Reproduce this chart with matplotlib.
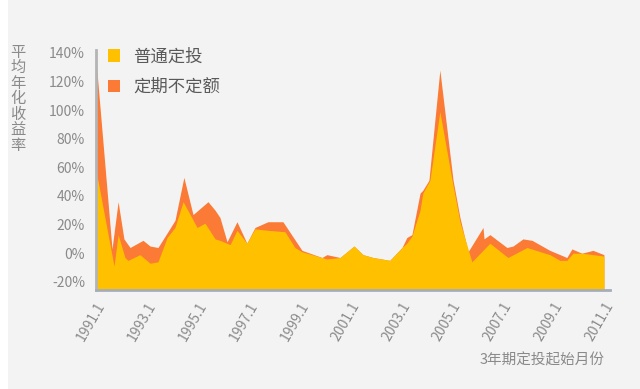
import matplotlib
matplotlib.use('Agg')
import matplotlib.pyplot as plt
from matplotlib.patches import Patch, Rectangle

plt.rcParams['font.family'] = ['Noto Sans CJK SC', 'DejaVu Sans']

# 定期不定额 (top, orange)
irregular_dates = [1991.00, 1991.63, 1991.87, 1992.10, 1992.34, 1992.85, 1993.13, 1993.44,
                   1993.83, 1994.11, 1994.46, 1994.82, 1995.41, 1995.69, 1995.88, 1996.16,
                   1996.55, 1996.94, 1997.26, 1997.77, 1998.36, 1999.11, 1999.90, 2000.09,
                   2000.61, 2001.16, 2001.51, 2001.91, 2002.57, 2003.05, 2003.24, 2003.44,
                   2003.76, 2003.87, 2004.11, 2004.54, 2005.06, 2005.33, 2005.65, 2006.24,
                   2006.28, 2006.51, 2007.18, 2007.42, 2007.81, 2008.17, 2008.87, 2009.54,
                   2009.74, 2010.13, 2010.57, 2011.00]
irregular_ret = [135, 3, 36, 10, 4, 9, 5, 4,
                 15, 23, 53, 27, 36, 30, 25, 8,
                 22, 7, 18, 22, 22, 2, -3, -1,
                 -3, 5, -1, -3, -5, 4, 11, 13,
                 42, 44, 51, 128, 51, 25, 1, 18,
                 10, 13, 4, 5, 10, 9, 2, -3,
                 3, 0, 2, -1]

# 普通定投 (front, yellow)
regular_dates = [1991.00, 1991.71, 1991.87, 1992.14, 1992.26, 1992.73, 1993.13, 1993.44,
                 1993.80, 1994.11, 1994.43, 1994.98, 1995.29, 1995.69, 1995.88, 1996.28,
                 1996.55, 1996.94, 1997.26, 1997.77, 1998.44, 1998.83, 1999.11, 1999.90,
                 2000.09, 2000.61, 2001.16, 2001.51, 2001.91, 2002.57, 2003.05, 2003.24,
                 2003.44, 2003.76, 2003.87, 2004.15, 2004.54, 2005.02, 2005.33, 2005.80,
                 2006.51, 2007.22, 2007.97, 2008.87, 2009.27, 2009.54, 2009.78, 2010.13,
                 2010.57, 2011.00]
regular_ret = [58, -9, 13, -3, -5, -1, -7, -6,
               11, 18, 36, 18, 21, 10, 9, 6,
               16, 7, 17, 16, 15, 4, 1, -3,
               -4, -3, 5, -1, -3, -5, 4, 7,
               12, 30, 42, 51, 99, 51, 22, -6,
               7, -3, 4, -1, -5, -5, 0, 0,
               -1, -2]

tick_years = list(range(1991, 2012, 2))
tick_labels = [f'{y}.1' for y in tick_years]
y_ticks = [-20, 0, 20, 40, 60, 80, 100, 120, 140]

bg = '#f3f3f3'
yellow = '#ffc000'
orange = '#fb7a35'
grey_text = '#8a8a8a'
y_bottom, y_top = -25.7, 142

fig = plt.figure(figsize=(6.4, 3.89), dpi=100, facecolor='white')
fig.patches.append(Rectangle((8 / 640, 0), 1, 1, transform=fig.transFigure,
                             facecolor=bg, edgecolor='none', zorder=-10))
ax = fig.add_axes([96 / 640, 1 - 290 / 389, (610 - 96) / 640, (290 - 50) / 389])
ax.set_facecolor(bg)

ax.fill_between(irregular_dates, irregular_ret, y_bottom, color=orange, lw=0)
ax.fill_between(regular_dates, regular_ret, y_bottom, color=yellow, lw=0)

ax.set_xlim(1991, 2011.24)
ax.set_ylim(y_bottom, y_top)

ax.set_yticks(y_ticks)
ax.set_yticklabels([f'{v}%' for v in y_ticks], color=grey_text, fontsize=10)
ax.set_xticks(tick_years)
ax.set_xticklabels(tick_labels, color=grey_text, fontsize=10, rotation=60,
                   ha='right', va='top', rotation_mode='anchor')
ax.tick_params(axis='both', length=0)
ax.tick_params(axis='y', pad=8)
ax.tick_params(axis='x', pad=7)

for side in ['top', 'right']:
    ax.spines[side].set_visible(False)
ax.spines['left'].set_color('#b4b4b4')
ax.spines['left'].set_linewidth(2)
ax.spines['bottom'].set_color('#a6adba')
ax.spines['bottom'].set_linewidth(2)

handles = [Patch(facecolor=yellow, edgecolor='none', label='普通定投'),
           Patch(facecolor=orange, edgecolor='none', label='定期不定额')]
ax.legend(handles=handles, loc='upper left', bbox_to_anchor=(-0.008, 1.075),
          frameon=False, fontsize=12.5, labelcolor='#595959',
          handlelength=0.7, handleheight=0.7, handletextpad=0.8, labelspacing=0.7)

fig.text(18 / 640, 1 - 44 / 389, '\n'.join('平均年化收益率'), ha='center', va='top',
         fontsize=11, color=grey_text, linespacing=0.88)
fig.text(605 / 640, 1 - 360 / 389, '3年期定投起始月份', ha='right', va='center',
         fontsize=10.5, color=grey_text)

fig.savefig('out.png', dpi=100, facecolor=fig.get_facecolor())
